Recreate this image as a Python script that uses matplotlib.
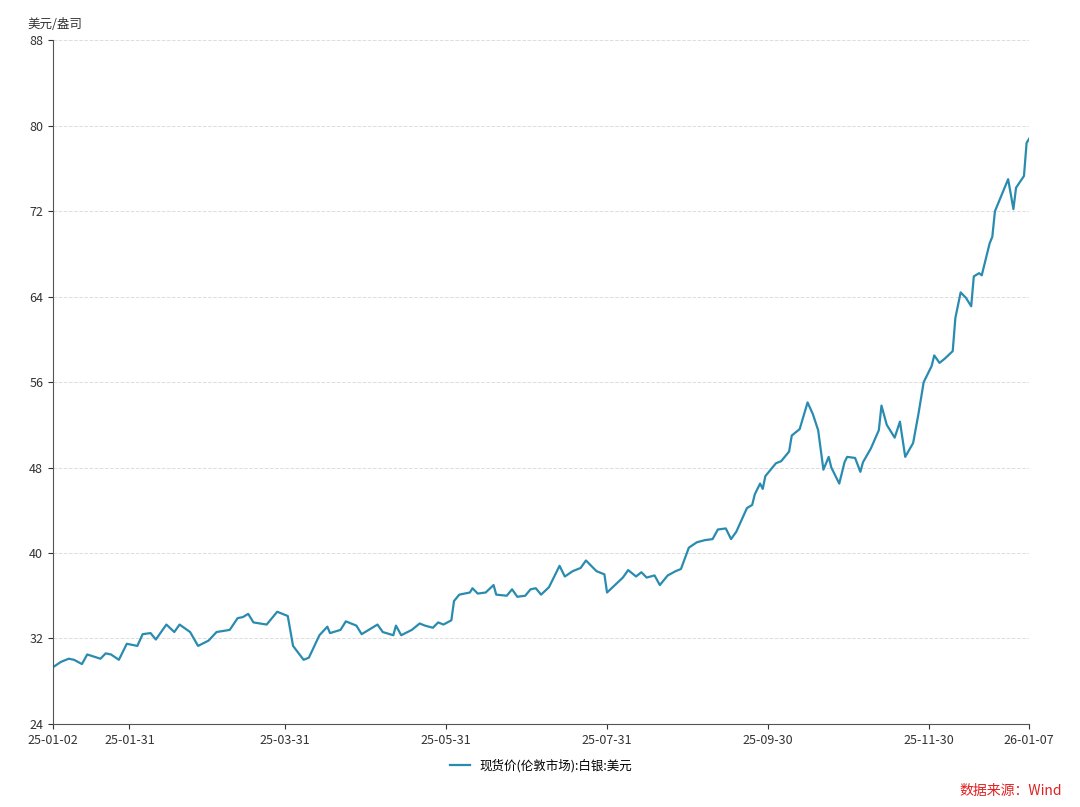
import matplotlib.pyplot as plt
import matplotlib.dates as mdates
import pandas as pd

plt.rcParams['font.family'] = ['Noto Sans CJK SC', 'DejaVu Sans']

dates_2025 = [
    "01-02", "01-05", "01-08", "01-10", "01-13", "01-15", "01-20", "01-22", "01-24", "01-27",
    "01-30", "02-03", "02-05", "02-08", "02-10", "02-14", "02-17", "02-19", "02-23", "02-26",
    "03-02", "03-05", "03-10", "03-13", "03-15", "03-17", "03-19", "03-24", "03-28", "04-01",
    "04-03", "04-07", "04-09", "04-13", "04-16", "04-17", "04-21", "04-23", "04-27", "04-29",
    "05-05", "05-07", "05-11", "05-12", "05-14", "05-18", "05-21", "05-23", "05-26", "05-28",
    "05-30", "06-02", "06-03", "06-05", "06-09", "06-10", "06-12", "06-15", "06-18", "06-19",
    "06-23", "06-25", "06-27", "06-30", "07-02", "07-04", "07-06", "07-09", "07-13", "07-15",
    "07-18", "07-21", "07-23", "07-27", "07-30", "07-31", "08-03", "08-06", "08-08", "08-11",
    "08-13", "08-15", "08-18", "08-20", "08-23", "08-26", "08-28", "08-31", "09-03", "09-06",
    "09-09", "09-11", "09-14", "09-16", "09-18", "09-22", "09-24", "09-25", "09-27", "09-28",
    "09-29", "10-03", "10-05", "10-08", "10-09", "10-12", "10-15", "10-17", "10-19", "10-21",
    "10-23", "10-24", "10-27", "10-29", "10-30", "11-02", "11-04", "11-05", "11-08", "11-11",
    "11-12", "11-14", "11-17", "11-19", "11-21", "11-24", "11-26", "11-28", "12-01", "12-02",
    "12-04", "12-06", "12-09", "12-10", "12-12", "12-14", "12-16", "12-17", "12-19", "12-20",
    "12-23", "12-24", "12-25", "12-30",
]
dates_2026 = ["01-01", "01-02", "01-05", "01-06", "01-07"]

prices = [
    29.3, 29.8, 30.1, 30.0, 29.6, 30.5, 30.1, 30.6, 30.5, 30.0,
    31.5, 31.3, 32.4, 32.5, 31.9, 33.3, 32.6, 33.3, 32.6, 31.3,
    31.8, 32.6, 32.8, 33.9, 34.0, 34.3, 33.5, 33.3, 34.5, 34.1,
    31.3, 30.0, 30.2, 32.3, 33.1, 32.5, 32.8, 33.6, 33.2, 32.4,
    33.3, 32.6, 32.3, 33.2, 32.3, 32.8, 33.4, 33.2, 33.0, 33.5,
    33.3, 33.7, 35.5, 36.1, 36.3, 36.7, 36.2, 36.3, 37.0, 36.1,
    36.0, 36.6, 35.9, 36.0, 36.6, 36.7, 36.1, 36.8, 38.8, 37.8,
    38.3, 38.6, 39.3, 38.3, 38.0, 36.3, 37.0, 37.7, 38.4, 37.8,
    38.2, 37.7, 37.9, 37.0, 37.9, 38.3, 38.5, 40.5, 41.0, 41.2,
    41.3, 42.2, 42.3, 41.3, 42.0, 44.2, 44.5, 45.5, 46.5, 46.0,
    47.2, 48.4, 48.6, 49.5, 51.0, 51.6, 54.1, 53.0, 51.5, 47.8,
    49.0, 48.0, 46.5, 48.5, 49.0, 48.9, 47.6, 48.5, 49.8, 51.5,
    53.8, 52.0, 50.8, 52.3, 49.0, 50.3, 53.0, 56.0, 57.5, 58.5,
    57.8, 58.2, 58.9, 62.0, 64.4, 63.9, 63.1, 65.9, 66.2, 66.0,
    69.0, 69.6, 72.0, 75.0,
    72.2, 74.2, 75.3, 78.4, 78.8,
]

tick_labels = ["25-01-02", "25-01-31", "25-03-31", "25-05-31", "25-07-31",
               "25-09-30", "25-11-30", "26-01-07"]

dates = pd.to_datetime(["2025-" + d for d in dates_2025] + ["2026-" + d for d in dates_2026])
ticks = pd.to_datetime(["20" + t for t in tick_labels])

fig, ax = plt.subplots(figsize=(10.8, 8.07), dpi=100)
fig.subplots_adjust(left=0.049, right=0.953, top=0.95, bottom=0.103)

ax.plot(dates, prices, color='#2a8bb0', linewidth=1.6, label='现货价(伦敦市场):白银:美元')

ax.set_ylim(24, 88)
ax.set_yticks(range(24, 89, 8))
ax.set_xlim(dates[0], dates[-1])
ax.set_xticks(ticks)
ax.set_xticklabels(tick_labels)
ax.tick_params(labelsize=9, colors='#333333')
ax.grid(axis='y', linestyle='--', color='#dddddd', linewidth=0.7)
for s in ['top', 'right']:
    ax.spines[s].set_visible(False)
for s in ['left', 'bottom']:
    ax.spines[s].set_color('#555555')

fig.text(0.025, 0.965, '美元/盎司', fontsize=9, color='#333333')
ax.legend(loc='upper center', bbox_to_anchor=(0.5, -0.035), frameon=False, fontsize=9,
          handlelength=1.6)
fig.text(0.983, 0.015, '数据来源：Wind', fontsize=10, color='#e02020', ha='right')

fig.savefig('out.png')
